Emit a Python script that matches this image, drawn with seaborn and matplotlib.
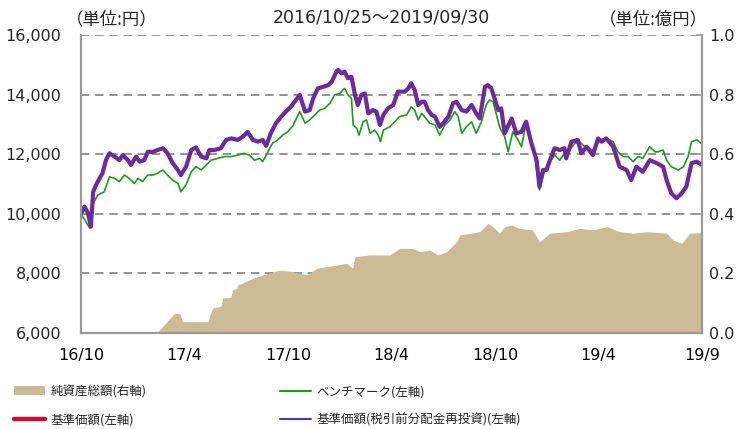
import matplotlib
matplotlib.use("Agg")
import matplotlib.pyplot as plt
from matplotlib.patches import Patch
from matplotlib.lines import Line2D
from matplotlib.ticker import StrMethodFormatter
import pandas as pd
import seaborn as sns

# ---- data ----
nav_dates = [
    "2016-10-25", "2016-10-31", "2016-11-06", "2016-11-11", "2016-11-15", "2016-11-20",
    "2016-11-26", "2016-12-01", "2016-12-07", "2016-12-13", "2016-12-22", "2016-12-30",
    "2017-01-05", "2017-01-14", "2017-01-19", "2017-01-28", "2017-02-03", "2017-02-11",
    "2017-02-17", "2017-02-26", "2017-03-06", "2017-03-15", "2017-03-23", "2017-04-01",
    "2017-04-10", "2017-04-15", "2017-04-24", "2017-05-03", "2017-05-11", "2017-05-20",
    "2017-05-29", "2017-06-03", "2017-06-12", "2017-06-23", "2017-07-02", "2017-07-11",
    "2017-07-22", "2017-07-31", "2017-08-08", "2017-08-17", "2017-08-26", "2017-09-03",
    "2017-09-09", "2017-09-17", "2017-09-26", "2017-10-05", "2017-10-13", "2017-10-22",
    "2017-10-28", "2017-11-06", "2017-11-15", "2017-11-23", "2017-11-29", "2017-12-07",
    "2017-12-16", "2017-12-25", "2017-12-31", "2018-01-08", "2018-01-11", "2018-01-17",
    "2018-01-22", "2018-01-28", "2018-02-03", "2018-02-09", "2018-02-14", "2018-02-20",
    "2018-02-26", "2018-03-04", "2018-03-12", "2018-03-18", "2018-03-24", "2018-03-30",
    "2018-04-07", "2018-04-16", "2018-04-24", "2018-05-06", "2018-05-12", "2018-05-17",
    "2018-05-23", "2018-05-29", "2018-06-04", "2018-06-09", "2018-06-15", "2018-06-21",
    "2018-06-27", "2018-07-05", "2018-07-11", "2018-07-20", "2018-07-28", "2018-08-03",
    "2018-08-12", "2018-08-20", "2018-08-29", "2018-09-06", "2018-09-12", "2018-09-21",
    "2018-09-26", "2018-10-02", "2018-10-08", "2018-10-14", "2018-10-19", "2018-10-25",
    "2018-11-06", "2018-11-14", "2018-11-23", "2018-12-01", "2018-12-10", "2018-12-19",
    "2018-12-24", "2018-12-30", "2019-01-05", "2019-01-11", "2019-01-19", "2019-01-28",
    "2019-02-05", "2019-02-08", "2019-02-17", "2019-02-28", "2019-03-06", "2019-03-15",
    "2019-03-26", "2019-04-04", "2019-04-10", "2019-04-18", "2019-04-30", "2019-05-11",
    "2019-05-23", "2019-05-31", "2019-06-09", "2019-06-20", "2019-07-02", "2019-07-14",
    "2019-07-25", "2019-07-31", "2019-08-08", "2019-08-17", "2019-08-26", "2019-09-03",
    "2019-09-12", "2019-09-21", "2019-09-30",
]
nav_base = [
    10000, 10240, 10030, 9570, 10740, 10970,
    11190, 11360, 11800, 12030, 11920, 11800,
    11970, 11800, 11640, 11920, 11750, 11800,
    12080, 12080, 12140, 12200, 12030, 11700,
    11470, 11300, 11580, 12140, 12230, 11920,
    11860, 12140, 12140, 12200, 12480, 12530,
    12480, 12590, 12750, 12480, 12420, 12480,
    12280, 12700, 13040, 13260, 13430, 13600,
    13760, 13990, 13430, 13480, 13870, 14210,
    14260, 14320, 14430, 14770, 14830, 14710,
    14770, 14550, 14600, 13990, 13650, 13990,
    14040, 13370, 13480, 13430, 12980, 13320,
    13540, 13650, 14100, 14100, 14210, 14380,
    14150, 13650, 13760, 13760, 13480, 13320,
    13260, 12920, 13040, 13260, 13710, 13760,
    13480, 13430, 13650, 13370, 13200, 14260,
    14320, 14210, 13850, 13480, 13540, 12700,
    13200, 12700, 12750, 13090, 12370, 11800,
    10910, 11470, 11470, 11800, 12200, 12140,
    12200, 11860, 12420, 12480, 12030, 12250,
    11970, 12530, 12420, 12530, 12250, 11580,
    11470, 11130, 11580, 11410, 11800, 11700,
    11580, 11130, 10690, 10520, 10690, 10910,
    11700, 11750, 11640,
]
# no distributions paid, so the reinvested series follows the base price
nav_reinvested = list(nav_base)

bench_dates = [
    "2016-10-25", "2016-11-09", "2016-11-15", "2016-11-23", "2016-12-04", "2016-12-13",
    "2016-12-22", "2016-12-30", "2017-01-08", "2017-01-16", "2017-01-25", "2017-01-31",
    "2017-02-08", "2017-02-17", "2017-02-26", "2017-03-06", "2017-03-15", "2017-03-23",
    "2017-04-01", "2017-04-10", "2017-04-15", "2017-04-24", "2017-05-03", "2017-05-11",
    "2017-05-20", "2017-05-29", "2017-06-06", "2017-06-18", "2017-06-29", "2017-07-11",
    "2017-07-22", "2017-08-02", "2017-08-11", "2017-08-20", "2017-08-29", "2017-09-03",
    "2017-09-12", "2017-09-20", "2017-09-29", "2017-10-08", "2017-10-16", "2017-10-25",
    "2017-11-06", "2017-11-15", "2017-11-23", "2017-12-02", "2017-12-10", "2017-12-19",
    "2017-12-28", "2018-01-05", "2018-01-14", "2018-01-22", "2018-01-28", "2018-02-03",
    "2018-02-06", "2018-02-12", "2018-02-16", "2018-02-23", "2018-03-01", "2018-03-07",
    "2018-03-15", "2018-03-21", "2018-03-25", "2018-03-30", "2018-04-10", "2018-04-19",
    "2018-04-27", "2018-05-09", "2018-05-17", "2018-05-23", "2018-05-29", "2018-06-04",
    "2018-06-09", "2018-06-18", "2018-06-27", "2018-07-05", "2018-07-14", "2018-07-23",
    "2018-07-31", "2018-08-06", "2018-08-12", "2018-08-20", "2018-08-29", "2018-09-06",
    "2018-09-15", "2018-09-23", "2018-09-29", "2018-10-05", "2018-10-11", "2018-10-17",
    "2018-10-25", "2018-10-31", "2018-11-08", "2018-11-17", "2018-11-23", "2018-12-01",
    "2018-12-10", "2018-12-16", "2018-12-24", "2019-01-02", "2019-01-11", "2019-01-19",
    "2019-01-28", "2019-02-05", "2019-02-14", "2019-02-23", "2019-03-03", "2019-03-15",
    "2019-03-26", "2019-04-07", "2019-04-18", "2019-04-30", "2019-05-08", "2019-05-17",
    "2019-05-26", "2019-06-03", "2019-06-12", "2019-06-20", "2019-07-02", "2019-07-11",
    "2019-07-16", "2019-07-25", "2019-07-31", "2019-08-08", "2019-08-20", "2019-08-29",
    "2019-09-06", "2019-09-12", "2019-09-21", "2019-09-30",
]
bench_values = [
    10000, 9520, 10350, 10630, 10740, 11240,
    11190, 11080, 11300, 11190, 11020, 11190,
    11080, 11300, 11300, 11360, 11470, 11300,
    11130, 11020, 10740, 10970, 11410, 11580,
    11470, 11640, 11800, 11860, 11920, 11920,
    11970, 12030, 11970, 11800, 11860, 11750,
    12080, 12370, 12480, 12650, 12750, 12950,
    13430, 13040, 13150, 13320, 13480, 13540,
    13710, 13990, 14040, 14210, 13990, 13870,
    12980, 12870, 12640, 13090, 13150, 12700,
    12810, 12640, 12420, 12810, 12920, 13090,
    13260, 13320, 13590, 13480, 13150, 13370,
    13260, 13040, 12980, 12640, 12980, 13150,
    13430, 13260, 12700, 12920, 13090, 12700,
    13090, 13650, 13820, 13760, 13320, 12870,
    12590, 12080, 12750, 12480, 12250, 13040,
    12420, 11920, 10800, 11470, 11750, 11970,
    11800, 12030, 12140, 12370, 12420, 12200,
    12140, 12480, 12530, 12420, 12080, 11920,
    11920, 11750, 11920, 11860, 12250, 12080,
    12080, 12140, 11800, 11580, 11470, 11580,
    11920, 12420, 12480, 12350,
]

asset_dates = [
    "2017-03-05", "2017-03-18", "2017-04-05", "2017-04-13", "2017-04-18", "2017-06-01",
    "2017-06-04", "2017-06-09", "2017-06-23", "2017-06-26", "2017-07-10", "2017-07-13",
    "2017-07-20", "2017-07-22", "2017-08-24", "2017-10-02", "2017-10-25", "2017-11-18",
    "2017-12-05", "2018-01-09", "2018-01-26", "2018-02-05", "2018-02-09", "2018-03-07",
    "2018-04-10", "2018-04-27", "2018-05-20", "2018-06-01", "2018-06-18", "2018-07-02",
    "2018-07-17", "2018-08-03", "2018-08-09", "2018-09-12", "2018-09-26", "2018-10-08",
    "2018-10-16", "2018-10-25", "2018-11-06", "2018-11-20", "2018-12-12", "2018-12-24",
    "2019-01-11", "2019-02-08", "2019-03-03", "2019-03-26", "2019-04-19", "2019-05-11",
    "2019-06-03", "2019-06-27", "2019-07-31", "2019-08-11", "2019-08-26", "2019-09-09",
    "2019-09-30",
]
asset_values = [
    0.0, 0.03, 0.067, 0.065, 0.038, 0.038,
    0.06, 0.084, 0.09, 0.117, 0.12, 0.144,
    0.15, 0.161, 0.189, 0.211, 0.206, 0.195,
    0.217, 0.228, 0.234, 0.217, 0.256, 0.262,
    0.262, 0.284, 0.284, 0.273, 0.278, 0.262,
    0.273, 0.306, 0.329, 0.340, 0.368, 0.351,
    0.335, 0.357, 0.362, 0.351, 0.346, 0.306,
    0.335, 0.340, 0.351, 0.346, 0.357, 0.340,
    0.335, 0.340, 0.335, 0.312, 0.301, 0.335,
    0.337,
]

x_tick_labels = ["16/10", "17/4", "17/10", "18/4", "18/10", "19/4", "19/9"]
legend_labels = ["純資産総額(右軸)", "基準価額(左軸)", "ベンチマーク(左軸)",
                 "基準価額(税引前分配金再投資)(左軸)"]

# colours
tan = "#cdbb96"
red = "#cc0c36"
blue = "#3c3cc8"
green = "#1e9a1e"
axis_grey = "#999999"

sns.set_theme(style="white")
plt.rcParams["font.family"] = ["DejaVu Sans", "Noto Sans CJK JP"]
cjk = ["Noto Sans CJK JP", "DejaVu Sans"]

nav_df = pd.DataFrame({"date": pd.to_datetime(nav_dates), "base": nav_base,
                       "reinv": nav_reinvested})
bench_df = pd.DataFrame({"date": pd.to_datetime(bench_dates), "value": bench_values})
asset_df = pd.DataFrame({"date": pd.to_datetime(asset_dates), "value": asset_values})

W, H = 755, 429
fig = plt.figure(figsize=(W / 100, H / 100), dpi=100)
ax = fig.add_axes([81 / W, 1 - 333 / H, (702 - 81) / W, (333 - 35) / H])
ax2 = ax.twinx()

# right axis (behind): grid + net assets area
ax2.fill_between(asset_df["date"], asset_df["value"], color=tan, lw=0, zorder=2)
ax2.set_ylim(0, 1.0)
ax2.set_yticks([0.0, 0.2, 0.4, 0.6, 0.8, 1.0])
ax2.yaxis.set_major_formatter(StrMethodFormatter("{x:.1f}"))
ax2.set_axisbelow(True)
ax2.yaxis.grid(True, color="#808080", lw=1.2, ls=(0, (5, 3.5)))
ax2.xaxis.grid(False)

# left axis (front): price lines
ax.set_zorder(ax2.get_zorder() + 1)
ax.patch.set_visible(False)
sns.lineplot(data=bench_df, x="date", y="value", ax=ax, color=green, lw=1.2)
sns.lineplot(data=nav_df, x="date", y="base", ax=ax, color=red, lw=3.0)
sns.lineplot(data=nav_df, x="date", y="reinv", ax=ax, color=blue, lw=1.8)
ax.set_ylim(6000, 16000)
ax.set_yticks(range(6000, 16001, 2000))
ax.yaxis.set_major_formatter(StrMethodFormatter("{x:,.0f}"))
ax.grid(False)
ax.set_xlabel("")
ax.set_ylabel("")

start, end = pd.Timestamp("2016-10-25"), pd.Timestamp("2019-09-30")
ax.set_xlim(start, end)
ax.set_xticks(pd.date_range(start, end, periods=len(x_tick_labels)))
ax.set_xticklabels(x_tick_labels)

for a in (ax, ax2):
    for side in ("left", "right", "bottom"):
        a.spines[side].set_color(axis_grey)
        a.spines[side].set_linewidth(1.5)
    a.spines["top"].set_visible(False)

ax.tick_params(axis="x", direction="in", length=4, width=1.2, color=axis_grey,
               labelsize=11.5, pad=11, labelcolor="black")
ax.tick_params(axis="y", length=0, labelsize=11.5, pad=14)
ax2.tick_params(axis="y", direction="in", length=4, width=1.2, color=axis_grey,
                labelsize=11.5, pad=5)

# header texts
fig.text(66 / W, 1 - 19 / H, "（単位:円）", ha="left", va="center", fontsize=12.5,
         family=cjk)
fig.text(381 / W, 1 - 17 / H, "2016/10/25～2019/09/30", ha="center", va="center",
         fontsize=12.5)
fig.text(708 / W, 1 - 19 / H, "（単位:億円）", ha="right", va="center", fontsize=12.5,
         family=cjk)

handles = [
    Patch(facecolor=tan, edgecolor="none"),
    Line2D([], [], color=red, lw=3.2),
    Line2D([], [], color=green, lw=1.5),
    Line2D([], [], color=blue, lw=1.5),
]
fig.legend(handles, legend_labels, ncol=2, loc="upper left",
           bbox_to_anchor=(14 / W, 1 - 385 / H), frameon=False,
           prop={"family": cjk, "size": 9},
           handlelength=2.5, handletextpad=0.4, columnspacing=10.7,
           labelspacing=1.2, borderpad=0, borderaxespad=0)

fig.savefig("out.png", dpi=100)
